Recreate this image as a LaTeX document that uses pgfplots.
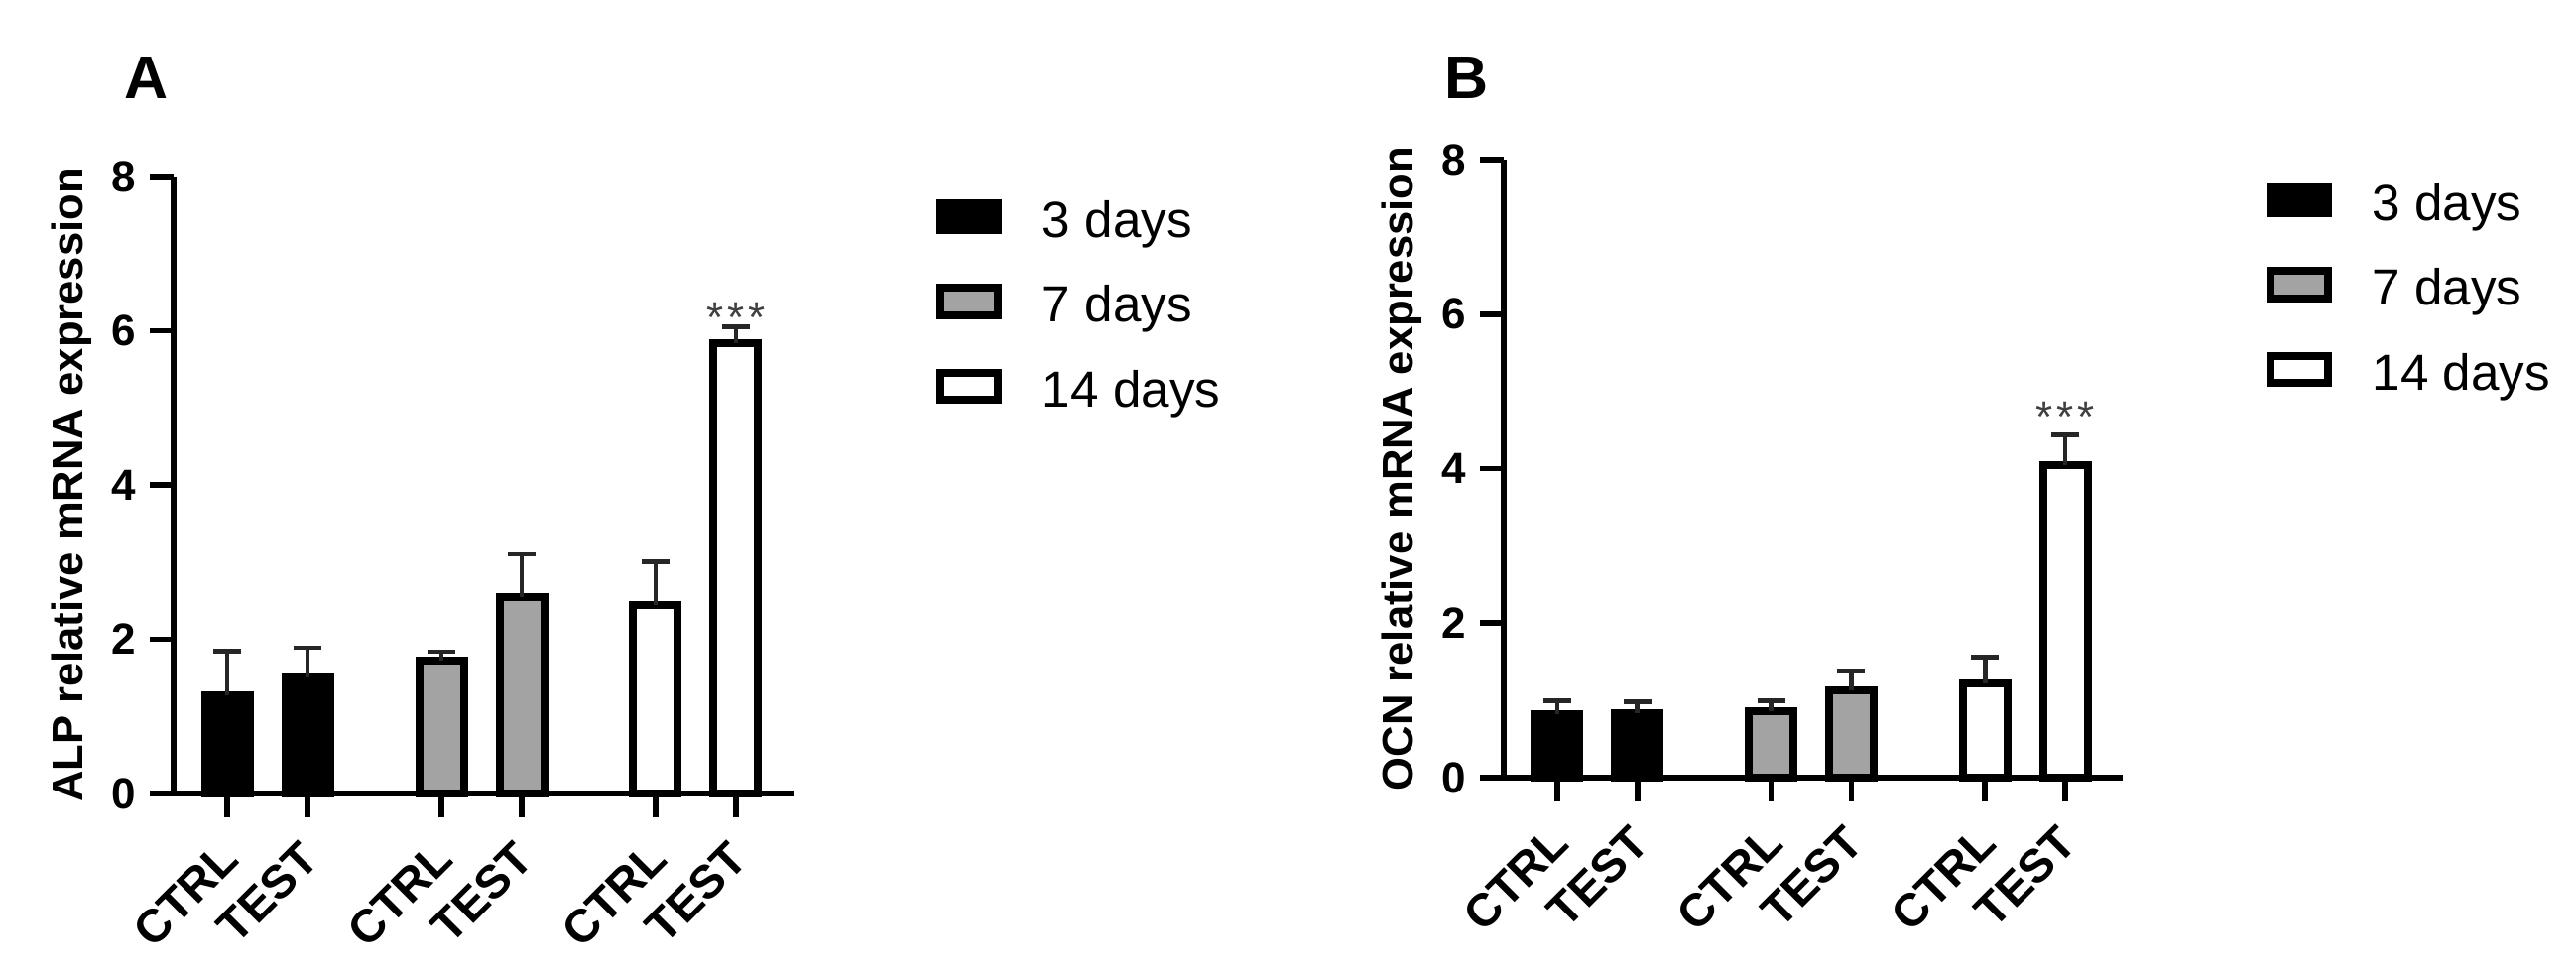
\documentclass[border=0pt]{standalone}
\usepackage{fontspec}
\setmainfont{Liberation Sans}
\usepackage{pgfplots}
\pgfplotsset{compat=1.18}
\definecolor{bargray}{gray}{0.64}

\pgfplotsset{
  panel/.style={
    scale only axis,
    anchor=south west,
    xmin=0.333, xmax=8.05,
    ymin=0, ymax=8,
    axis x line*=bottom, axis y line*=left,
    axis line style={line width=1.5pt, black},
    ytick={0,2,4,6,8},
    xtick={1,2,3.667,4.667,6.333,7.333},
    xticklabels={CTRL,TEST,CTRL,TEST,CTRL,TEST},
    tick align=outside,
    major tick length=6pt,
    every tick/.style={black, line width=1.4pt},
    yticklabel style={font=\fontsize{11}{12}\selectfont\bfseries},
    /pgf/number format/assume math mode=true,
    xticklabel style={font=\fontsize{11.75}{13}\selectfont\bfseries, xshift=0.75pt, yshift=-8.25pt, rotate=45, anchor=east, inner sep=0pt},
    ylabel style={font=\fontsize{10.9}{13}\selectfont\bfseries, at={(axis description cs:-0.165,0.5)}, anchor=center},
    ybar, bar width=11.25pt,
    error bars/y dir=plus, error bars/y explicit,
    error bars/error bar style={line width=1.2pt, black!85},
    error bars/error mark options={rotate=90, mark size=3.5pt, line width=1.2pt, black!85},
    legend style={draw=none, fill=none, inner sep=0pt, outer sep=0pt, row sep=10.25pt, column sep=10.25pt,
      font=\fontsize{12.8}{14}\selectfont, nodes={inner sep=0pt}, anchor=north west},
    legend cell align=left,
    every axis plot post/.append style={bar shift=0pt,
      legend image code/.code={\draw[##1, line width=2pt] (0pt,-2.1pt) rectangle (14.5pt,4.7pt);}},
    clip=false,
  },
}

\begin{document}
\begin{tikzpicture}
\useasboundingbox (0,0) rectangle (649.25pt,245.5pt);

\node[anchor=base west, inner sep=0pt, font=\fontsize{15.25}{16}\selectfont\bfseries] at (31.25pt,220.5pt) {A};
\node[anchor=base west, inner sep=0pt, font=\fontsize{15.25}{16}\selectfont\bfseries] at (363.9pt,220.5pt) {B};

% Panel A
\begin{axis}[panel, at={(43.75pt,45.5pt)}, width=156.25pt, height=155.5pt,
  ylabel={ALP relative mRNA expression},
  legend style={at={(1.2304,0.963)}}]
\addplot[fill=black, draw=black, line width=2pt] coordinates {
  (1,1.27) +- (0,0.58)
  (2,1.50) +- (0,0.39)
};
\addlegendentry{3 days}
\addplot[fill=bargray, draw=black, line width=2pt] coordinates {
  (3.667,1.72) +- (0,0.12)
  (4.667,2.55) +- (0,0.55)
};
\addlegendentry{7 days}
\addplot[fill=white, draw=black, line width=2pt] coordinates {
  (6.333,2.45) +- (0,0.55)
  (7.333,5.84) +- (0,0.21)
};
\addlegendentry{14 days}
\node[anchor=base, inner sep=0pt, font=\fontsize{11}{12}\selectfont, text=black!75] at (axis cs:7.333,5.98) {*\kern1pt*\kern1pt*};
\end{axis}

% Panel B
\begin{axis}[panel, at={(379pt,49.5pt)}, width=156pt, height=155.75pt,
  ylabel={OCN relative mRNA expression},
  legend style={at={(1.232,0.963)}}]
\addplot[fill=black, draw=black, line width=2pt] coordinates {
  (1,0.82) +- (0,0.18)
  (2,0.84) +- (0,0.14)
};
\addlegendentry{3 days}
\addplot[fill=bargray, draw=black, line width=2pt] coordinates {
  (3.667,0.86) +- (0,0.14)
  (4.667,1.13) +- (0,0.25)
};
\addlegendentry{7 days}
\addplot[fill=white, draw=black, line width=2pt] coordinates {
  (6.333,1.22) +- (0,0.34)
  (7.333,4.05) +- (0,0.39)
};
\addlegendentry{14 days}
\node[anchor=base, inner sep=0pt, font=\fontsize{11}{12}\selectfont, text=black!75] at (axis cs:7.333,4.47) {*\kern1pt*\kern1pt*};
\end{axis}
\end{tikzpicture}
\end{document}
